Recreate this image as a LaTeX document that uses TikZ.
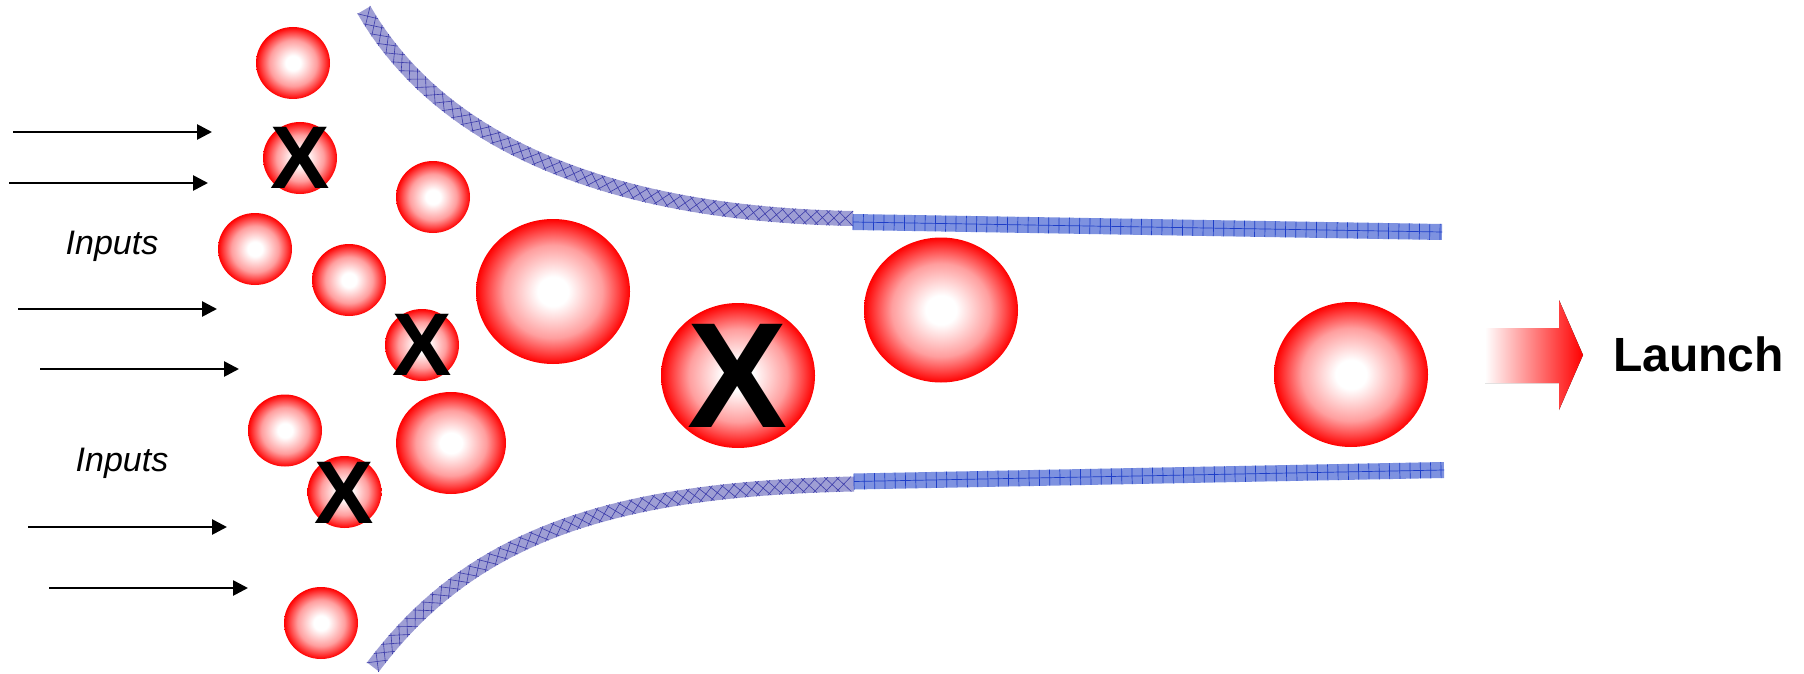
\documentclass[tikz,border=0pt]{standalone}
\usepackage{fontspec}
\setmainfont{Liberation Sans}
\usetikzlibrary{arrows.meta,shapes.geometric,decorations.markings}
\definecolor{curvebase}{RGB}{158,158,212}
\definecolor{curveline}{RGB}{60,60,170}
\definecolor{straightbase}{RGB}{126,146,224}
\definecolor{straightline}{RGB}{30,62,200}
\pgfdeclareradialshading{ballshade}{\pgfpoint{0bp}{0bp}}{color(0bp)=(white); color(5bp)=(white); color(16bp)=(red!38!white); color(21bp)=(red!72!white); color(25bp)=(red); color(50bp)=(red)}
\tikzset{
  ball/.style={ellipse, inner sep=0pt, draw=none, shading=ballshade, minimum width=74pt, minimum height=72pt},
  midball/.style={ball, minimum width=110pt, minimum height=102pt},
  bigball/.style={ball, minimum width=154pt, minimum height=145pt},
  xmark/.style={inner sep=0pt, font=\bfseries\fontsize{89}{89}\selectfont},
  bigxmark/.style={inner sep=0pt, font=\bfseries\fontsize{150}{150}\selectfont},
  inlabel/.style={inner sep=0pt, font=\itshape\fontsize{34}{34}\selectfont},
  inarrow/.style={line width=2.7pt, -{Triangle[length=15pt,width=15pt]}},
  curveband/.style={line width=15pt, draw=curvebase,
    postaction={decorate, decoration={markings,
      mark=between positions 0.013 and 0.987 step 11.5pt with
      {\draw[curveline, line width=0.6pt] (-7.5pt,-7.5pt)--(7.5pt,7.5pt) (-7.5pt,7.5pt)--(7.5pt,-7.5pt);}}}},
  straightband/.style={line width=16pt, draw=straightbase,
    postaction={decorate, decoration={markings,
      mark=between positions 0 and 1 step 10.3pt with
      {\draw[straightline, line width=0.7pt] (0pt,-8pt)--(0pt,8pt);}}},
    postaction={draw=straightline, line width=0.7pt}},
}
\begin{document}
\begin{tikzpicture}[x=1pt,y=-1pt]
\useasboundingbox (0,0) rectangle (1804,674);
% funnel
\draw[curveband] (364,10) .. controls (439,140) and (603,214) .. (853,218.5);
\draw[straightband] (853,222) -- (1442,232);
\draw[curveband] (373,667) .. controls (469,539) and (604,489) .. (854,484);
\draw[straightband] (854,481.5) -- (1444,470);
% balls
\node[ball] (b1) at (293,63) {};
\node[ball] (b2) at (300,158) {};
\node[ball] (b3) at (433,197) {};
\node[ball] (b4) at (255,249) {};
\node[ball] (b5) at (349,280) {};
\node[ball] (b6) at (422,345) {};
\node[bigball] (b7) at (553,291.5) {};
\node[ball] (b8) at (285,430.5) {};
\node[midball] (b9) at (451,443) {};
\node[ball] (b10) at (344.5,492) {};
\node[ball] (b11) at (321,623) {};
\node[bigball] (b12) at (738,375.5) {};
\node[bigball] (b13) at (941,310) {};
\node[bigball] (b14) at (1351,374.5) {};
% X marks
\node[xmark] (x2) at (b2) {X};
\node[xmark] (x6) at (b6) {X};
\node[xmark] (x10) at (344.5,493) {X};
\node[bigxmark] (x12) at (b12) {X};
% input arrows
\coordinate (a1s) at (13,132);  \coordinate (a1e) at (212,132);
\coordinate (a2s) at (9,183);   \coordinate (a2e) at (208,183);
\coordinate (a3s) at (18,309);  \coordinate (a3e) at (217,309);
\coordinate (a4s) at (40,369);  \coordinate (a4e) at (239,369);
\coordinate (a5s) at (28,527);  \coordinate (a5e) at (227,527);
\coordinate (a6s) at (49,588);  \coordinate (a6e) at (248,588);
\draw[inarrow] (a1s) -- (a1e);
\draw[inarrow] (a2s) -- (a2e);
\draw[inarrow] (a3s) -- (a3e);
\draw[inarrow] (a4s) -- (a4e);
\draw[inarrow] (a5s) -- (a5e);
\draw[inarrow] (a6s) -- (a6e);
\node[inlabel] (in1) at (112,246.5) {Inputs};
\node[inlabel] (in2) at (122,463.5) {Inputs};
% launch arrow
\fill[left color=white, right color=red] (1485,328) -- (1559,328) -- (1559,300) -- (1583,355) -- (1559,410) -- (1559,383) -- (1485,383) -- cycle;
\node[inner sep=0pt, anchor=west, font=\bfseries\fontsize{48}{48}\selectfont] (launch) at (1613,354) {Launch};
\end{tikzpicture}
\end{document}
